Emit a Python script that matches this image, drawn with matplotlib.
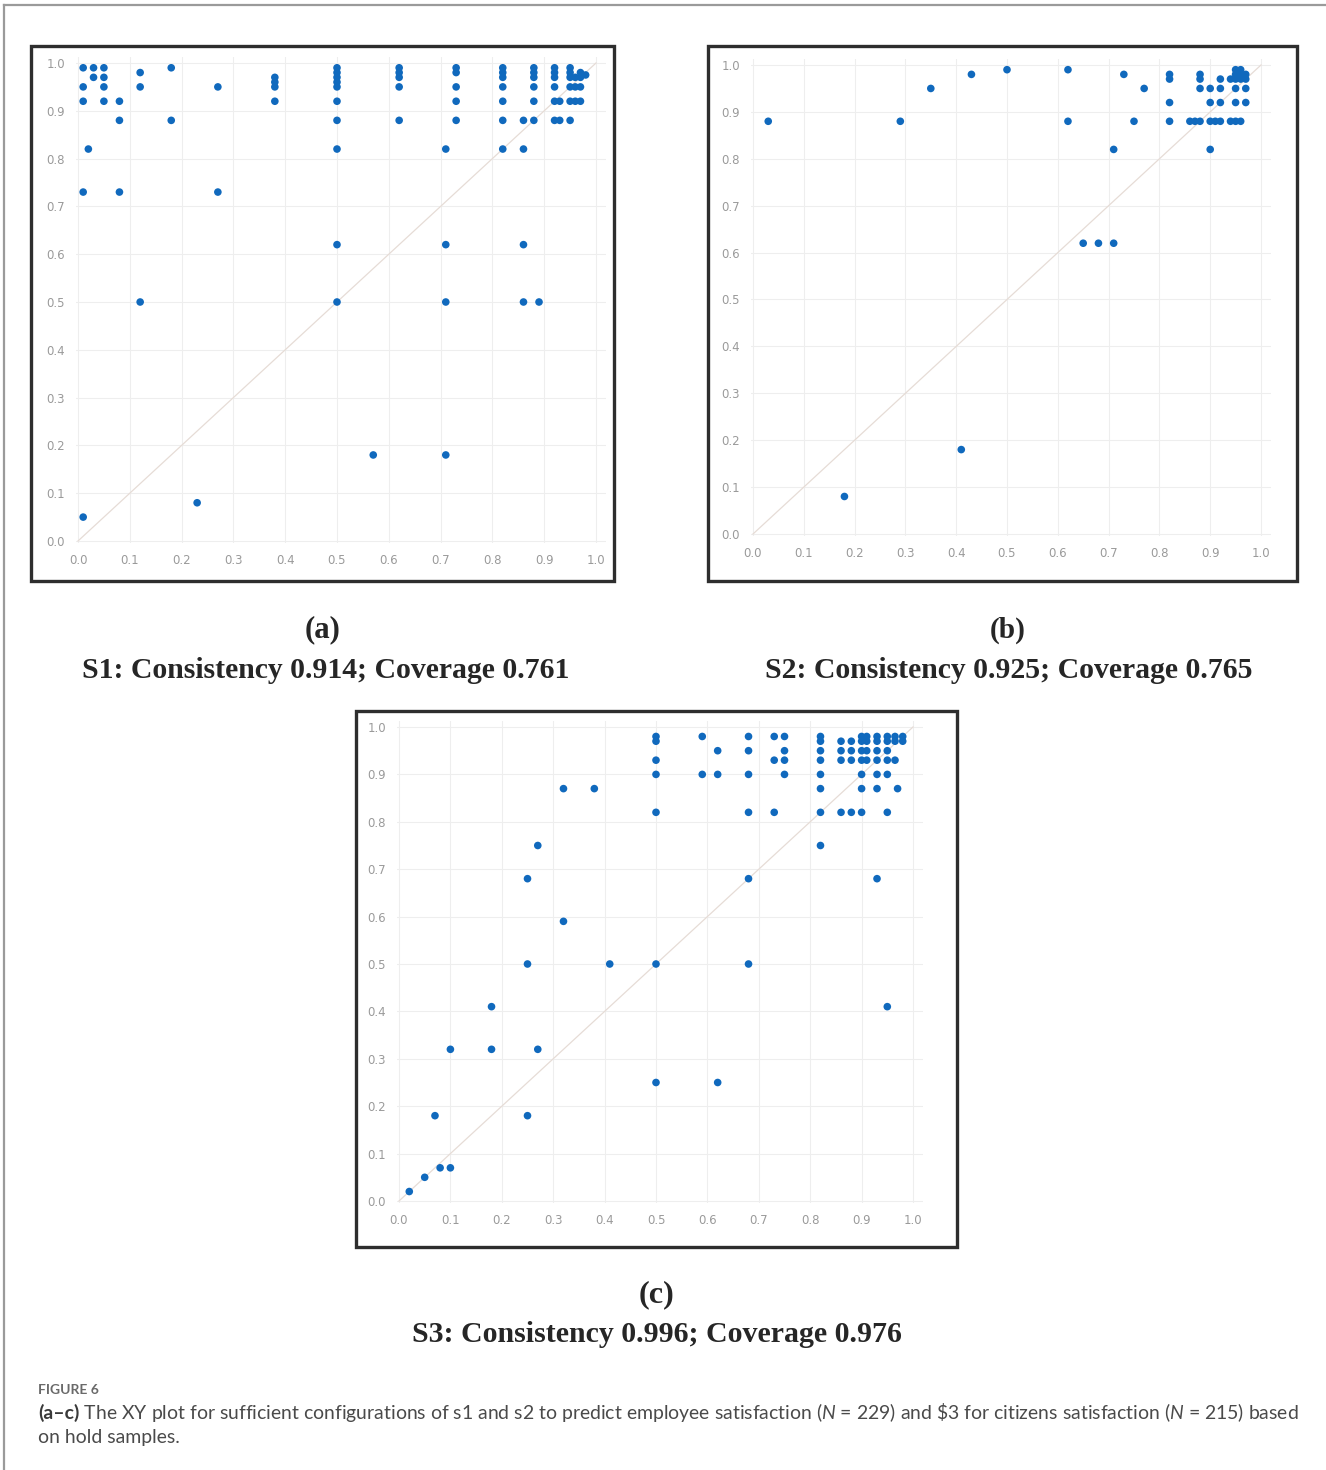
import matplotlib
matplotlib.use("Agg")
import matplotlib.pyplot as plt
from matplotlib.patches import Rectangle
from matplotlib.lines import Line2D

# ---------------- data ----------------
tick_values = [0.0, 0.1, 0.2, 0.3, 0.4, 0.5, 0.6, 0.7, 0.8, 0.9, 1.0]
tick_labels = ["0.0", "0.1", "0.2", "0.3", "0.4", "0.5", "0.6", "0.7", "0.8", "0.9", "1.0"]

# Panel (a) S1
a_x = [0.01, 0.01, 0.01, 0.01, 0.01,
       0.02,
       0.03, 0.03,
       0.05, 0.05, 0.05, 0.05,
       0.08, 0.08, 0.08,
       0.12, 0.12, 0.12,
       0.18, 0.18,
       0.23,
       0.27, 0.27,
       0.38, 0.38, 0.38, 0.38,
       0.50, 0.50, 0.50, 0.50, 0.50, 0.50, 0.50, 0.50, 0.50, 0.50,
       0.57,
       0.62, 0.62, 0.62, 0.62, 0.62,
       0.71, 0.71, 0.71, 0.71,
       0.73, 0.73, 0.73, 0.73, 0.73,
       0.82, 0.82, 0.82, 0.82, 0.82, 0.82, 0.82,
       0.86, 0.86, 0.86, 0.86,
       0.88, 0.88, 0.88, 0.88, 0.88, 0.88,
       0.89,
       0.92, 0.92, 0.92, 0.92, 0.92, 0.92,
       0.93, 0.93,
       0.95, 0.95, 0.95, 0.95, 0.95, 0.95,
       0.96, 0.96, 0.96,
       0.97, 0.97, 0.97, 0.97,
       0.98]
a_y = [0.99, 0.95, 0.92, 0.73, 0.05,
       0.82,
       0.99, 0.97,
       0.99, 0.97, 0.95, 0.92,
       0.92, 0.88, 0.73,
       0.98, 0.95, 0.50,
       0.99, 0.88,
       0.08,
       0.95, 0.73,
       0.97, 0.96, 0.95, 0.92,
       0.99, 0.98, 0.97, 0.96, 0.95, 0.92, 0.88, 0.82, 0.62, 0.50,
       0.18,
       0.99, 0.98, 0.97, 0.95, 0.88,
       0.82, 0.62, 0.50, 0.18,
       0.99, 0.98, 0.95, 0.92, 0.88,
       0.99, 0.98, 0.97, 0.95, 0.92, 0.88, 0.82,
       0.88, 0.82, 0.62, 0.50,
       0.99, 0.98, 0.97, 0.95, 0.92, 0.88,
       0.50,
       0.99, 0.98, 0.97, 0.95, 0.92, 0.88,
       0.92, 0.88,
       0.99, 0.98, 0.97, 0.95, 0.92, 0.88,
       0.97, 0.95, 0.92,
       0.98, 0.97, 0.95, 0.92,
       0.975]

# Panel (b) S2
b_x = [0.03, 0.18, 0.29, 0.35, 0.41, 0.43, 0.50, 0.62, 0.62, 0.65, 0.68, 0.71, 0.71,
       0.73, 0.75, 0.77,
       0.82, 0.82, 0.82, 0.82,
       0.86, 0.87,
       0.88, 0.88, 0.88, 0.88,
       0.90, 0.90, 0.90, 0.90,
       0.91,
       0.92, 0.92, 0.92, 0.92,
       0.94, 0.94,
       0.95, 0.95, 0.95, 0.95, 0.95, 0.95,
       0.96, 0.96, 0.96, 0.96,
       0.97, 0.97, 0.97, 0.97]
b_y = [0.88, 0.08, 0.88, 0.95, 0.18, 0.98, 0.99, 0.99, 0.88, 0.62, 0.62, 0.62, 0.82,
       0.98, 0.88, 0.95,
       0.98, 0.97, 0.92, 0.88,
       0.88, 0.88,
       0.98, 0.97, 0.95, 0.88,
       0.95, 0.92, 0.88, 0.82,
       0.88,
       0.97, 0.95, 0.92, 0.88,
       0.97, 0.88,
       0.99, 0.98, 0.97, 0.95, 0.92, 0.88,
       0.99, 0.98, 0.97, 0.88,
       0.98, 0.97, 0.95, 0.92]

# Panel (c) S3
c_x = [0.02, 0.05, 0.08, 0.10, 0.07, 0.10, 0.18, 0.18, 0.25, 0.25, 0.25, 0.27, 0.27,
       0.32, 0.32, 0.38, 0.41,
       0.50, 0.50, 0.50, 0.50, 0.50, 0.50, 0.50,
       0.59, 0.59,
       0.62, 0.62, 0.62,
       0.68, 0.68, 0.68, 0.68, 0.68, 0.68,
       0.73, 0.73, 0.73,
       0.75, 0.75, 0.75, 0.75,
       0.82, 0.82, 0.82, 0.82, 0.82, 0.82, 0.82, 0.82,
       0.86, 0.86, 0.86, 0.86,
       0.88, 0.88, 0.88, 0.88,
       0.90, 0.90, 0.90, 0.90, 0.90, 0.90, 0.90,
       0.91, 0.91, 0.91, 0.91,
       0.93, 0.93, 0.93, 0.93, 0.93, 0.93, 0.93,
       0.95, 0.95, 0.95, 0.95, 0.95, 0.95, 0.95,
       0.965, 0.965, 0.965,
       0.97,
       0.98, 0.98]
c_y = [0.02, 0.05, 0.07, 0.07, 0.18, 0.32, 0.32, 0.41, 0.18, 0.50, 0.68, 0.75, 0.32,
       0.59, 0.87, 0.87, 0.50,
       0.50, 0.25, 0.82, 0.90, 0.93, 0.97, 0.98,
       0.98, 0.90,
       0.95, 0.90, 0.25,
       0.98, 0.95, 0.90, 0.82, 0.68, 0.50,
       0.98, 0.93, 0.82,
       0.98, 0.95, 0.93, 0.90,
       0.98, 0.97, 0.95, 0.93, 0.90, 0.87, 0.82, 0.75,
       0.97, 0.95, 0.93, 0.82,
       0.97, 0.95, 0.93, 0.82,
       0.98, 0.97, 0.95, 0.93, 0.90, 0.87, 0.82,
       0.98, 0.97, 0.95, 0.93,
       0.98, 0.97, 0.95, 0.93, 0.90, 0.87, 0.68,
       0.98, 0.97, 0.95, 0.93, 0.90, 0.82, 0.41,
       0.98, 0.97, 0.93,
       0.87,
       0.98, 0.97]

panel_letters = ["(a)", "(b)", "(c)"]
panel_titles = ["S1: Consistency 0.914; Coverage 0.761",
                "S2: Consistency 0.925; Coverage 0.765",
                "S3: Consistency 0.996; Coverage 0.976"]
figure_label = "FIGURE 6"
caption_bold = "(a\u2013c)"
caption_rest = (" The XY plot for sufficient configurations of s1 and s2 to predict employee "
                "satisfaction ($\\mathit{N}$ = 229) and \\$3 for citizens satisfaction "
                "($\\mathit{N}$ = 215) based")
caption_line2 = "on hold samples."

# ---------------- layout ----------------
W, H = 1326, 1470
plt.rcParams['mathtext.fontset'] = 'custom'
plt.rcParams['mathtext.it'] = 'Lato:italic'
plt.rcParams['mathtext.rm'] = 'Lato'
fig = plt.figure(figsize=(W / 100, H / 100), dpi=100)
fig.patch.set_facecolor('white')

def fx(px):
    return px / W

def fy(py):
    return 1 - py / H

# outer figure border (top and left)
fig.add_artist(Line2D([fx(4), fx(1326)], [fy(5), fy(5)], color='#9a9a9a', lw=1.6))
fig.add_artist(Line2D([fx(4), fx(4)], [fy(5), fy(1470)], color='#9a9a9a', lw=1.6))

XLIM = (-0.004, 1.02)
YLIM = (-0.004, 1.012)
DOT = '#1069bd'

def make_panel(frame, x0, x1, y0, y1, xs, ys):
    L, R, T, B = frame
    fig.add_artist(Rectangle((fx(L), fy(B)), fx(R) - fx(L), fy(T) - fy(B),
                             fill=False, edgecolor='#2e2e2e', lw=2.4, zorder=5))
    sx = x1 - x0
    sy = y0 - y1
    left = x0 + XLIM[0] * sx
    right = x0 + XLIM[1] * sx
    bottom = y0 - YLIM[0] * sy
    top = y0 - YLIM[1] * sy
    ax = fig.add_axes([fx(left), fy(bottom), fx(right) - fx(left), fy(top) - fy(bottom)])
    ax.set_xlim(*XLIM)
    ax.set_ylim(*YLIM)
    for s in ax.spines.values():
        s.set_visible(False)
    ax.set_xticks(tick_values)
    ax.set_yticks(tick_values)
    ax.set_xticklabels(tick_labels)
    ax.set_yticklabels(tick_labels)
    ax.tick_params(length=0, labelsize=8.5, labelcolor='#9a9a9a')
    ax.tick_params(axis='x', pad=8)
    ax.tick_params(axis='y', pad=8)
    ax.grid(True, color='#eeeeee', lw=0.8)
    ax.set_axisbelow(True)
    ax.plot([0, 1], [0, 1], color='#e6dcd6', lw=0.9, zorder=1)
    ax.scatter(xs, ys, s=30, color=DOT, edgecolors='none', zorder=3, clip_on=False)
    return ax

make_panel((31, 614, 46, 581), 78, 596, 541, 63, a_x, a_y)
make_panel((708, 1297, 46, 581), 753, 1261, 534, 65, b_x, b_y)
make_panel((356, 957, 711, 1247), 399, 913, 1201, 727, c_x, c_y)

fig.canvas.draw()
renderer = fig.canvas.get_renderer()

def fit_text(cx, cy, s, target_w, base=20, **kw):
    t = fig.text(fx(cx), fy(cy), s, fontsize=base, ha='center', va='center', **kw)
    w = t.get_window_extent(renderer).width
    t.set_fontsize(base * target_w / w)
    return t

serif = dict(family='Liberation Serif', weight='bold', color='#262626')
fit_text(323, 630, panel_letters[0], 36, **serif)
fit_text(326, 670, panel_titles[0], 488, **serif)
fit_text(1008, 630, panel_letters[1], 36, **serif)
fit_text(1009, 670, panel_titles[1], 487, **serif)
fit_text(657, 1295, panel_letters[2], 36, **serif)
fit_text(657, 1335, panel_titles[2], 489, **serif)

# caption
fig.text(fx(38), fy(1390), figure_label, fontsize=10, family='Lato', weight='bold',
         color='#6a6a6a', ha='left', va='center')

base = 12
t1 = fig.text(fx(38), fy(1413), caption_bold, fontsize=base, family='Lato', weight='bold',
              color='#3a3a3a', ha='left', va='center')
t2 = fig.text(fx(38), fy(1413), caption_rest, fontsize=base, family='Lato',
              color='#4a4a4a', ha='left', va='center')
w1 = t1.get_window_extent(renderer).width
w2 = t2.get_window_extent(renderer).width
size = base * 1256 / (w1 + w2)
t1.set_fontsize(size)
t2.set_fontsize(size)
fig.canvas.draw()
w1 = t1.get_window_extent(renderer).width
t2.set_x(fx(38 + w1))
fig.text(fx(38), fy(1438), caption_line2, fontsize=size, family='Lato',
         color='#4a4a4a', ha='left', va='center')

fig.savefig('out.png', dpi=100, facecolor='white')
